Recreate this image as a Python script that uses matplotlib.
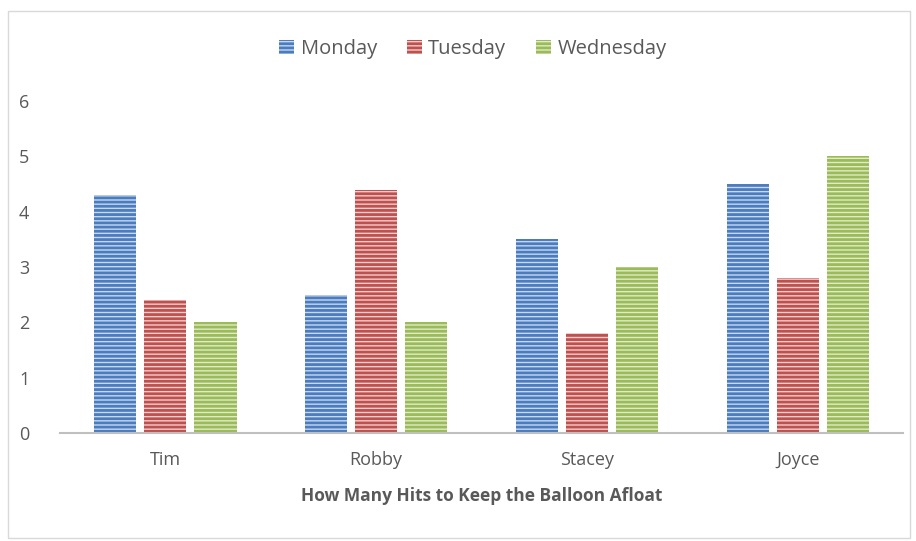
import numpy as np
import matplotlib.pyplot as plt
from matplotlib.patches import Rectangle

names = ['Tim', 'Robby', 'Stacey', 'Joyce']
monday = [4.3, 2.5, 3.5, 4.5]
tuesday = [2.4, 4.4, 1.8, 2.8]
wednesday = [2.0, 2.0, 3.0, 5.0]
days = ['Monday', 'Tuesday', 'Wednesday']
colors = ['#4A7CC0', '#C0504D', '#9BBB59']
lights = ['#C9D8EE', '#EFCFCE', '#DFEBC9']

plt.rcParams['font.family'] = ['Open Sans', 'DejaVu Sans']
plt.rcParams['hatch.linewidth'] = 2.0
txt = '#595959'

fig = plt.figure(figsize=(9.16, 5.41), dpi=100)
ax = fig.add_axes([0.0655, 0.1996, 0.9205, 0.6137])

x = np.arange(len(names))
w = 0.2
off = 0.238
for i, vals in enumerate([monday, tuesday, wednesday]):
    ax.bar(x + (i - 1) * off, vals, w, facecolor=lights[i], edgecolor=colors[i],
           hatch='----', linewidth=0, label=days[i])

ax.set_xlim(-0.5, 3.5)
ax.set_ylim(0, 6)
ax.set_yticks(range(7))
ax.set_xticks(x)
ax.set_xticklabels(names)
for s in ['top', 'right', 'left']:
    ax.spines[s].set_visible(False)
ax.spines['bottom'].set_color('#BFBFBF')
ax.spines['bottom'].set_linewidth(1.5)
ax.tick_params(axis='both', length=0, colors=txt, labelsize=13)
ax.tick_params(axis='y', pad=22)
ax.tick_params(axis='x', pad=13)
ax.set_xlabel('How Many Hits to Keep the Balloon Afloat', fontsize=12.5,
              fontweight='bold', color=txt, labelpad=13)

fig.legend(loc='center', bbox_to_anchor=(473 / 916, 1 - 49 / 541), ncol=3, frameon=False,
           fontsize=14.5, labelcolor=txt, handlelength=0.75, handleheight=0.75,
           handletextpad=0.3, columnspacing=1.5)

fig.patches.append(Rectangle((8 / 916, 3 / 541), 902 / 916, 527 / 541,
                             transform=fig.transFigure, fill=False,
                             edgecolor='#D9D9D9', linewidth=1))

fig.savefig('out.png', dpi=100)
